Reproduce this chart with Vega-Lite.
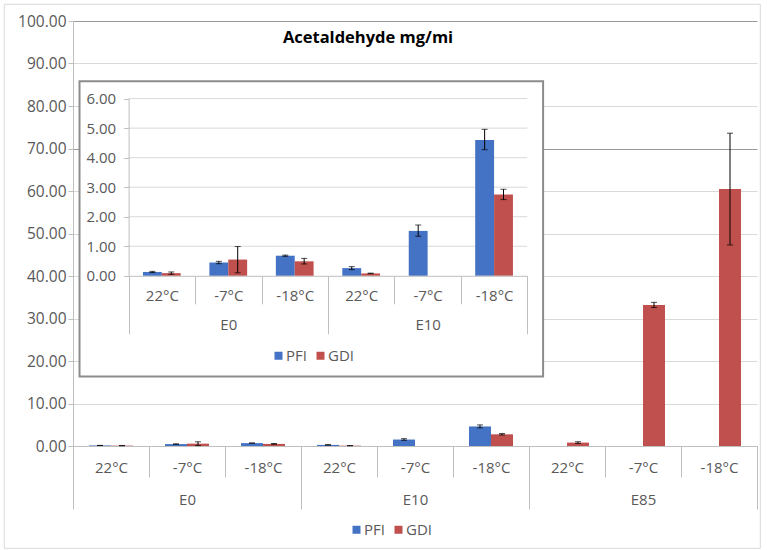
{
  "$schema": "https://vega.github.io/schema/vega-lite/v6.json",
  "width": 684,
  "height": 425,
  "autosize": {"type": "none"},
  "padding": {"left": 73, "top": 21, "right": 10, "bottom": 104},
  "background": "white",
  "title": {
    "text": "Acetaldehyde mg/mi",
    "font": "Open Sans",
    "fontSize": 16.5,
    "fontWeight": "bold",
    "color": "#000000",
    "anchor": "middle",
    "frame": "group",
    "orient": "top",
    "baseline": "alphabetic",
    "offset": -55.5,
    "dx": -47
  },
  "datasets": {
    "bars": [
      {"cat": "E0|22°C", "fuel": "E0", "series": "PFI", "value": 0.13, "lo": 0.11, "hi": 0.15},
      {"cat": "E0|22°C", "fuel": "E0", "series": "GDI", "value": 0.09, "lo": 0.05, "hi": 0.13},
      {"cat": "E0|-7°C", "fuel": "E0", "series": "PFI", "value": 0.45, "lo": 0.41, "hi": 0.49},
      {"cat": "E0|-7°C", "fuel": "E0", "series": "GDI", "value": 0.55, "lo": 0.1, "hi": 0.99},
      {"cat": "E0|-18°C", "fuel": "E0", "series": "PFI", "value": 0.68, "lo": 0.66, "hi": 0.7},
      {"cat": "E0|-18°C", "fuel": "E0", "series": "GDI", "value": 0.49, "lo": 0.4, "hi": 0.59},
      {"cat": "E10|22°C", "fuel": "E10", "series": "PFI", "value": 0.26, "lo": 0.21, "hi": 0.31},
      {"cat": "E10|22°C", "fuel": "E10", "series": "GDI", "value": 0.08, "lo": 0.07, "hi": 0.09},
      {"cat": "E10|-7°C", "fuel": "E10", "series": "PFI", "value": 1.52, "lo": 1.34, "hi": 1.72},
      {"cat": "E10|-18°C", "fuel": "E10", "series": "PFI", "value": 4.6, "lo": 4.27, "hi": 4.96},
      {"cat": "E10|-18°C", "fuel": "E10", "series": "GDI", "value": 2.75, "lo": 2.58, "hi": 2.93},
      {"cat": "E85|22°C", "fuel": "E85", "series": "GDI", "value": 0.8, "lo": 0.6, "hi": 1.0},
      {"cat": "E85|-7°C", "fuel": "E85", "series": "GDI", "value": 33.2, "lo": 32.6, "hi": 33.8},
      {"cat": "E85|-18°C", "fuel": "E85", "series": "GDI", "value": 60.5, "lo": 47.3, "hi": 73.6}
    ],
    "insetGrid": [{"v": 1}, {"v": 2}, {"v": 3}, {"v": 4}, {"v": 5}, {"v": 6}]
  },
  "layer": [
    {
      "data": {"name": "bars"},
      "layer": [
        {
          "mark": {"type": "bar"},
          "encoding": {
            "x": {
              "field": "cat",
              "type": "nominal",
              "sort": null,
              "scale": {
                "domain": ["E0|22°C", "E0|-7°C", "E0|-18°C", "E10|22°C", "E10|-7°C", "E10|-18°C", "E85|22°C", "E85|-7°C", "E85|-18°C"],
                "paddingInner": 0,
                "paddingOuter": 0
              },
              "axis": {
                "orient": "bottom",
                "title": null,
                "labelAngle": 0,
                "tickBand": "extent",
                "tickSize": 31,
                "labelExpr": "split(datum.value, '|')[1]",
                "labelBaseline": "middle",
                "labelPadding": -9.7
              }
            },
            "xOffset": {
              "field": "series",
              "type": "nominal",
              "scale": {"domain": ["PFI", "GDI"], "paddingOuter": 0.727, "paddingInner": 0}
            },
            "y": {
              "field": "value",
              "type": "quantitative",
              "scale": {"domain": [0, 100], "nice": false},
              "axis": {
                "orient": "left",
                "title": null,
                "values": [0, 10, 20, 30, 40, 50, 60, 70, 80, 90, 100],
                "format": ".2f",
                "grid": true,
                "gridColor": {"condition": {"test": "datum.value == 100 || datum.value == 70", "value": "#9a9a9a"}, "value": "#d9d9d9"},
                "tickSize": 5,
                "labelPadding": 2,
                "labelFontSize": 15.5
              }
            },
            "color": {
              "field": "series",
              "type": "nominal",
              "scale": {"domain": ["PFI", "GDI"], "range": ["#4472C4", "#C0504D"]},
              "legend": {"orient": "none", "legendX": 276, "legendY": 501, "direction": "horizontal", "title": null}
            }
          }
        },
        {
          "mark": {"type": "rule", "color": "#000000", "strokeWidth": 1},
          "encoding": {
            "x": {"field": "cat", "type": "nominal"},
            "xOffset": {"field": "series", "type": "nominal"},
            "y": {"field": "lo", "type": "quantitative"},
            "y2": {"field": "hi"}
          }
        },
        {
          "mark": {"type": "tick", "color": "#000000", "size": 6, "thickness": 1, "orient": "horizontal"},
          "encoding": {
            "x": {"field": "cat", "type": "nominal"},
            "xOffset": {"field": "series", "type": "nominal"},
            "y": {"field": "lo", "type": "quantitative"}
          }
        },
        {
          "mark": {"type": "tick", "color": "#000000", "size": 6, "thickness": 1, "orient": "horizontal"},
          "encoding": {
            "x": {"field": "cat", "type": "nominal"},
            "xOffset": {"field": "series", "type": "nominal"},
            "y": {"field": "hi", "type": "quantitative"}
          }
        }
      ]
    },
    {
      "data": {"name": "bars"},
      "mark": {"type": "point", "opacity": 0},
      "encoding": {
        "x": {
          "field": "fuel",
          "type": "nominal",
          "sort": null,
          "scale": {"domain": ["E0", "E10", "E85"], "paddingInner": 0, "paddingOuter": 0},
          "axis": {
            "orient": "bottom",
            "title": null,
            "labelAngle": 0,
            "domain": false,
            "tickBand": "extent",
            "tickSize": 63,
            "labelBaseline": "middle",
            "labelPadding": -10
          }
        }
      }
    },
    {
      "layer": [
        {
          "data": {"values": [{"frame": "outer"}]},
          "mark": {"type": "rect", "fill": null, "fillOpacity": 0, "stroke": "#d9d9d9", "strokeWidth": 1},
          "encoding": {
            "x": {"datum": -0.3118, "type": "quantitative", "scale": {"domain": [0, 1], "range": [55.6, 454.3], "nice": false, "zero": false}, "axis": null},
            "x2": {"datum": 1.5844},
            "y": {"datum": -9.228, "type": "quantitative", "scale": {"domain": [0, 6], "range": [254.8, 77.6], "nice": false, "zero": false}, "axis": null},
            "y2": {"datum": 9.194}
          }
        },
        {
          "data": {"values": [{"frame": "inset"}]},
          "mark": {"type": "rect", "fill": "#ffffff", "stroke": "#8c8c8c", "strokeWidth": 2},
          "encoding": {
            "x": {"datum": -0.1231, "type": "quantitative"},
            "x2": {"datum": 1.0396},
            "y": {"datum": -3.413, "type": "quantitative"},
            "y2": {"datum": 6.587}
          }
        },
        {
          "data": {"name": "insetGrid"},
          "mark": {"type": "rule", "color": "#d9d9d9", "strokeWidth": 1},
          "encoding": {
            "y": {"field": "v", "type": "quantitative"},
            "x": {"datum": 0, "type": "quantitative"},
            "x2": {"datum": 1}
          }
        }
      ]
    },
    {
      "data": {"name": "bars"},
      "transform": [{"filter": {"field": "fuel", "oneOf": ["E0", "E10"]}}],
      "layer": [
        {
          "mark": {"type": "bar"},
          "encoding": {
            "x": {
              "field": "cat",
              "type": "nominal",
              "sort": null,
              "scale": {
                "domain": ["E0|22°C", "E0|-7°C", "E0|-18°C", "E10|22°C", "E10|-7°C", "E10|-18°C"],
                "range": [55.6, 454.3],
                "paddingInner": 0,
                "paddingOuter": 0
              },
              "axis": {
                "orient": "bottom",
                "offset": -170.2,
                "zindex": 1,
                "title": null,
                "labelAngle": 0,
                "tickBand": "extent",
                "tickSize": 28,
                "labelExpr": "split(datum.value, '|')[1]",
                "labelBaseline": "middle",
                "labelPadding": -8.5
              }
            },
            "xOffset": {
              "field": "series",
              "type": "nominal",
              "scale": {"domain": ["PFI", "GDI"], "paddingOuter": 0.76, "paddingInner": 0}
            },
            "y": {
              "field": "value",
              "type": "quantitative",
              "scale": {"domain": [0, 6], "range": [254.8, 77.6], "nice": false},
              "axis": {
                "orient": "left",
                "offset": -55.6,
                "zindex": 1,
                "title": null,
                "values": [0, 1, 2, 3, 4, 5, 6],
                "format": ".2f",
                "grid": false,
                "tickSize": 5,
                "labelPadding": 8
              }
            },
            "color": {
              "field": "series",
              "type": "nominal",
              "scale": {"domain": ["PFI", "GDI"], "range": ["#4472C4", "#C0504D"]},
              "legend": {"orient": "none", "legendX": 198, "legendY": 327, "direction": "horizontal", "title": null}
            }
          }
        },
        {
          "mark": {"type": "rule", "color": "#000000", "strokeWidth": 1},
          "encoding": {
            "x": {"field": "cat", "type": "nominal"},
            "xOffset": {"field": "series", "type": "nominal"},
            "y": {"field": "lo", "type": "quantitative"},
            "y2": {"field": "hi"}
          }
        },
        {
          "mark": {"type": "tick", "color": "#000000", "size": 6, "thickness": 1, "orient": "horizontal"},
          "encoding": {
            "x": {"field": "cat", "type": "nominal"},
            "xOffset": {"field": "series", "type": "nominal"},
            "y": {"field": "lo", "type": "quantitative"}
          }
        },
        {
          "mark": {"type": "tick", "color": "#000000", "size": 6, "thickness": 1, "orient": "horizontal"},
          "encoding": {
            "x": {"field": "cat", "type": "nominal"},
            "xOffset": {"field": "series", "type": "nominal"},
            "y": {"field": "hi", "type": "quantitative"}
          }
        }
      ]
    },
    {
      "data": {"name": "bars"},
      "transform": [{"filter": {"field": "fuel", "oneOf": ["E0", "E10"]}}],
      "mark": {"type": "point", "opacity": 0},
      "encoding": {
        "x": {
          "field": "fuel",
          "type": "nominal",
          "sort": null,
          "scale": {"domain": ["E0", "E10"], "range": [55.6, 454.3], "paddingInner": 0, "paddingOuter": 0},
          "axis": {
            "orient": "bottom",
            "offset": -170.2,
            "zindex": 1,
            "title": null,
            "labelAngle": 0,
            "domain": false,
            "tickBand": "extent",
            "tickSize": 58,
            "labelBaseline": "middle",
            "labelPadding": -9
          }
        }
      }
    }
  ],
  "resolve": {
    "scale": {"x": "independent", "y": "independent", "xOffset": "independent", "color": "independent"},
    "axis": {"x": "independent", "y": "independent"},
    "legend": {"color": "independent"}
  },
  "config": {
    "font": "Open Sans",
    "view": {"stroke": null},
    "axis": {
      "labelFont": "Open Sans",
      "labelFontSize": 15,
      "labelColor": "#595959",
      "domainColor": "#bfbfbf",
      "tickColor": "#bfbfbf",
      "gridColor": "#d9d9d9"
    },
    "legend": {
      "labelFont": "Open Sans",
      "labelFontSize": 15,
      "labelColor": "#595959",
      "symbolType": "square",
      "symbolSize": 64,
      "symbolStrokeWidth": 0,
      "columnPadding": 6,
      "labelOffset": 0,
      "padding": 0
    }
  }
}
